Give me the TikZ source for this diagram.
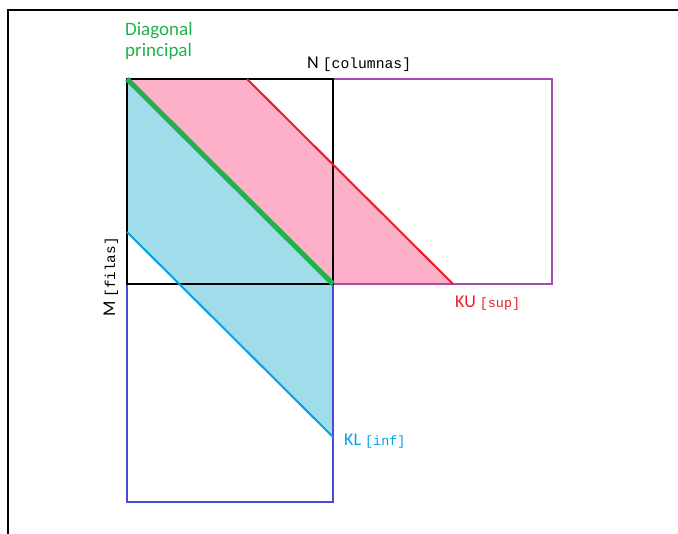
\documentclass[tikz,border=0pt]{standalone}
\usepackage{fontspec}
\setmainfont{Carlito}
\newfontfamily\monof{Liberation Mono}
\definecolor{pinkf}{HTML}{FFB0C9}
\definecolor{cyanf}{HTML}{A0DCEA}
\definecolor{greenl}{HTML}{22B14C}
\definecolor{redl}{HTML}{ED1C24}
\definecolor{cyanl}{HTML}{00A2E8}
\definecolor{purpl}{HTML}{A849B0}
\definecolor{bluel}{HTML}{4B4BD6}
\newcommand{\mysans}{\fontsize{18}{21}\selectfont}
\newcommand{\mymono}[2][14]{{\fontsize{#1}{16}\selectfont\monof #2}}
\tikzset{
  lbl/.style={inner sep=0pt, font=\mysans},
  edge2/.style={line width=2pt}
}
\begin{document}
\begin{tikzpicture}[x=1pt,y=-1pt]
\useasboundingbox (0,0) rectangle (678,534);
% frame
\draw[line width=2pt] (678,10) -- (8,10) -- (8,534);
% coordinates
\coordinate (A) at (127,79);
\coordinate (B) at (333,79);
\coordinate (C) at (333,284);
\coordinate (D) at (127,284);
\coordinate (P1) at (552,79);
\coordinate (P2) at (552,284);
\coordinate (Q1) at (127,502);
\coordinate (Q2) at (333,502);
\coordinate (R1) at (247,79);
\coordinate (R2) at (453,284);
\coordinate (L1) at (127,232);
\coordinate (L2) at (333,437);
% fills
\fill[pinkf] (A) -- (R1) -- (R2) -- (C) -- cycle;
\fill[cyanf] (A) -- (C) -- (L2) -- (L1) -- cycle;
% rectangles
\draw[edge2, purpl] (B) -- (P1) -- (P2) -- (C);
\draw[edge2, bluel] (D) -- (Q1) -- (Q2) -- (C);
\draw[edge2, black] (A) rectangle (C);
% bands
\draw[edge2, redl] (R1) -- (R2);
\draw[edge2, cyanl] (L1) -- (L2);
\draw[line width=5pt, greenl] (A) -- (C);
% labels
\node[lbl, greenl, anchor=base west, align=left, font=\fontsize{19}{21}\selectfont] (diag) at (125,57) {Diagonal\\principal};
\node[lbl, anchor=base west] (ncol) at (307,69) {N \mymono[14.7]{[columnas]}};
\node[lbl, anchor=base west, rotate=90] (mfil) at (115,317) {M \mymono[14.3]{[filas]}};
\node[lbl, redl, anchor=base west] (ku) at (455,308) {KU \mymono[13.4]{[sup]}};
\node[lbl, cyanl, anchor=base west] (kl) at (344,446) {KL \mymono[13.4]{[inf]}};
\end{tikzpicture}
\end{document}
